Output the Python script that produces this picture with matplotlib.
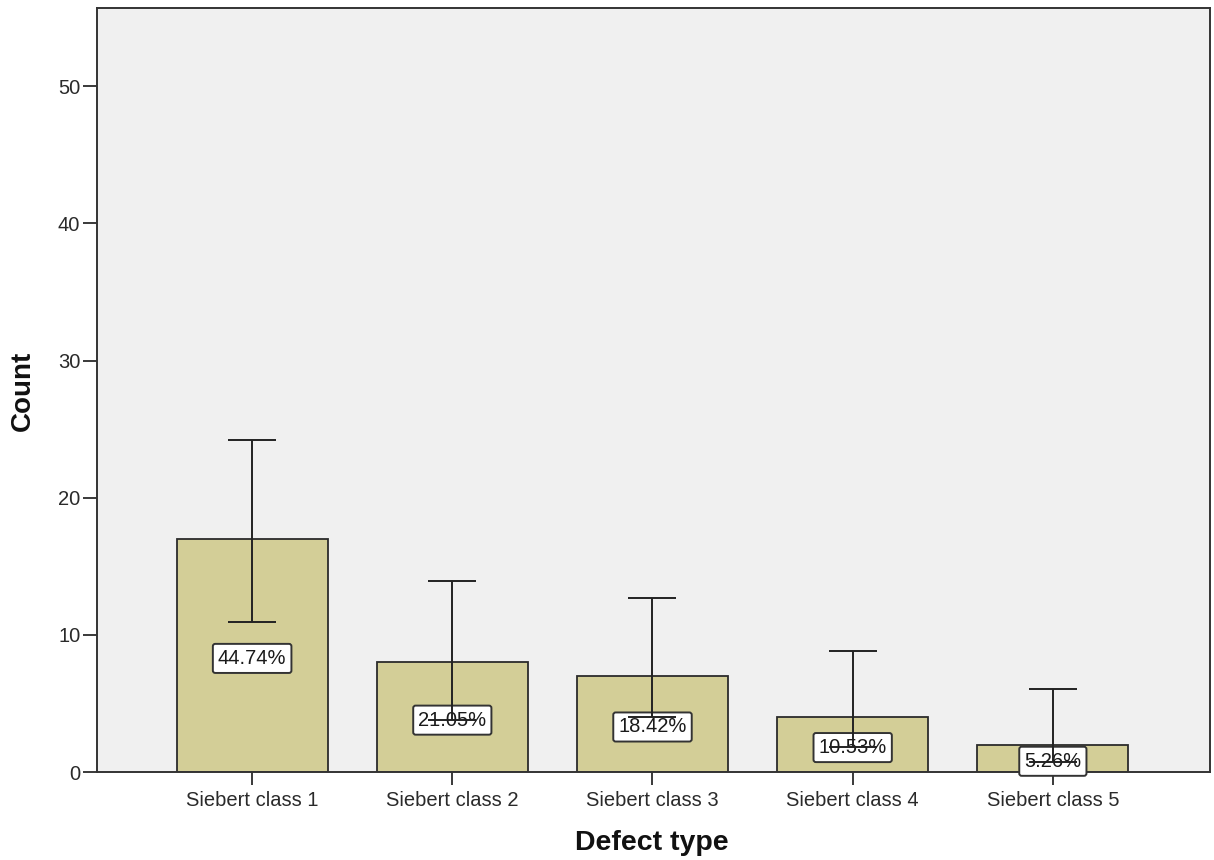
import matplotlib
matplotlib.use("Agg")
import matplotlib.pyplot as plt
import matplotlib.transforms as mtransforms
import numpy as np

categories = ["Siebert class 1", "Siebert class 2", "Siebert class 3", "Siebert class 4", "Siebert class 5"]
counts = [17, 8, 7, 4, 2]
ci_lower = [10.9, 3.8, 4.0, 1.8, 0.7]
ci_upper = [24.2, 13.9, 12.7, 8.8, 6.05]
pct_labels = ["44.74%", "21.05%", "18.42%", "10.53%", "5.26%"]
yticks = [0, 10, 20, 30, 40, 50]

plt.rcParams['font.family'] = ['Liberation Sans', 'DejaVu Sans']

fig = plt.figure(figsize=(12.14, 8.6), dpi=100)
ax = fig.add_axes([97/1214, 1-772/860, (1210-97)/1214, (772-8)/860])
ax.set_facecolor("#f0f0f0")

x = np.arange(len(categories))
ax.bar(x, counts, width=0.755, color="#d3ce97", edgecolor="#2b2b2b", linewidth=1.3, zorder=2)

offset = mtransforms.offset_copy(ax.transData, fig=fig, x=0, y=-3, units="dots")
for xi, c, lab in zip(x, counts, pct_labels):
    ax.text(xi, c / 2, lab, ha="center", va="center", fontsize=14.5, color="#1a1a1a", zorder=3,
            transform=offset, clip_on=False,
            bbox=dict(boxstyle="round,pad=0.25,rounding_size=0.12", facecolor="white", edgecolor="#333333", linewidth=1.4))

yerr = np.array([np.array(counts) - np.array(ci_lower), np.array(ci_upper) - np.array(counts)])
ax.errorbar(x, counts, yerr=yerr, fmt="none", ecolor="#222222", elinewidth=1.4, capsize=17.6, capthick=1.4, zorder=4)

ax.set_xlim(-0.775, 4.785)
ax.set_ylim(0, 55.7)
ax.set_yticks(yticks)
ax.set_xticks(x)
ax.set_xticklabels(categories, fontsize=14.5, color="#2a2a2a")
ax.tick_params(axis="y", labelsize=14.5, colors="#2a2a2a", length=10, width=1.3, pad=2)
ax.tick_params(axis="x", length=9, width=1.3, pad=5, colors="#2a2a2a")
for s in ax.spines.values():
    s.set_color("#333333")
    s.set_linewidth(1.4)

fig.text(652/1214, 1-843/860, "Defect type", ha="center", va="center", fontsize=20.5, fontweight="bold", color="#111111")
fig.text(23/1214, 1-391/860, "Count", ha="center", va="center", rotation=90, fontsize=20, fontweight="bold", color="#111111")

fig.savefig("out.png", dpi=100, facecolor="white")
